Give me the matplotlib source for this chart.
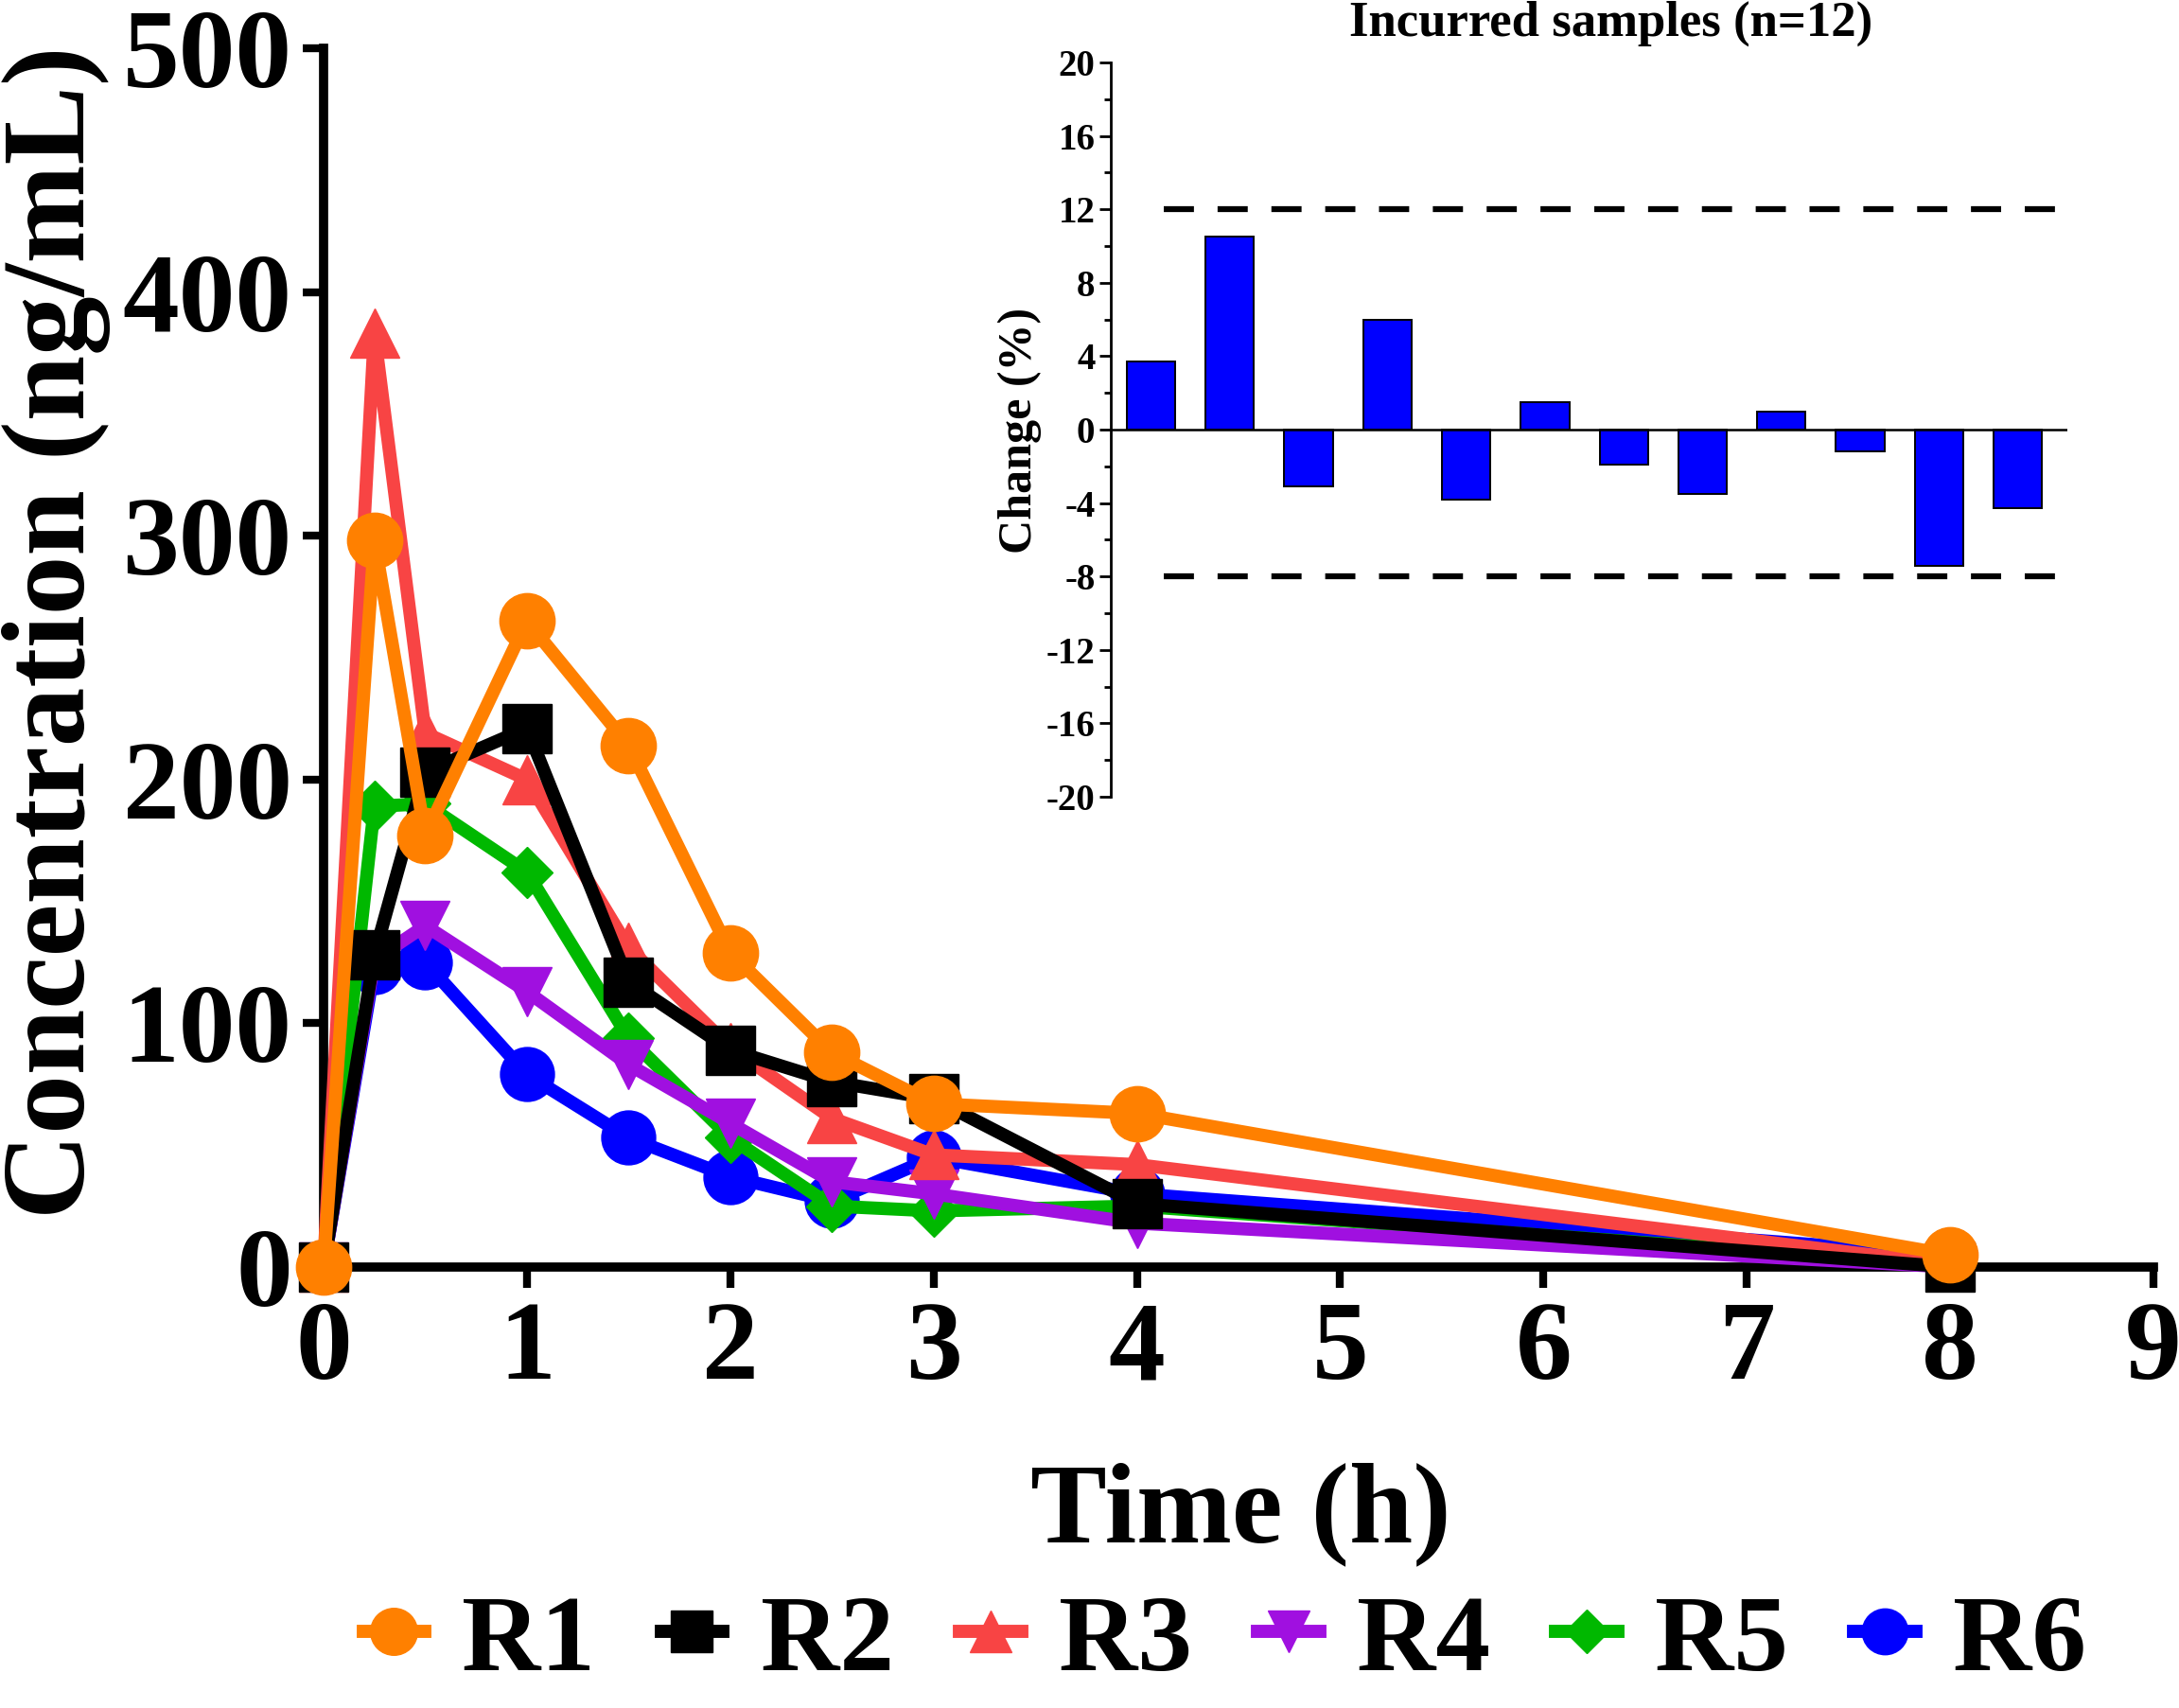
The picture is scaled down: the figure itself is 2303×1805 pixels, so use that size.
import numpy as np
import matplotlib.pyplot as plt

plt.rcParams['font.family'] = ['Liberation Serif', 'DejaVu Serif']
plt.rcParams['font.weight'] = 'bold'
plt.rcParams['axes.unicode_minus'] = False

# concentration-time data
time_h = [0, 0.25, 0.5, 1, 1.5, 2, 2.5, 3, 4, 8]
r1 = [0, 298, 177, 265, 214, 129, 88, 67, 63, 5]
r2 = [0, 128, 203, 221, 117, 89, 76, 69, 26, 0]
r3 = [0, 383, 219, 200, 131, 90, 61, 46, 42, 1]
r4 = [0, 126, 140, 113, 83, 59, 35, 30, 18, 0]
r5 = [0, 189, 190, 162, 94, 53, 25, 23, 25, 1]
r6 = [0, 123, 125, 79, 53, 37, 27, 45, 30, 5]
names = ['R1', 'R2', 'R3', 'R4', 'R5', 'R6']

# incurred sample reanalysis
change_pct = [3.7, 10.5, -3.1, 6.0, -3.8, 1.5, -1.9, -3.5, 1.0, -1.2, -7.4, -4.3]
limits = [12, -8]

fig = plt.figure(figsize=(23.03, 18.05), dpi=100)
ax = fig.add_axes([0.1485, 0.2582, 0.8398, 0.7136])

series = [r1, r2, r3, r4, r5, r6]
colors = ['#FF8000', '#000000', '#F84444', '#A010E0', '#00B800', '#0000FF']
markers = ['o', 's', '^', 'v', 'D', 'o']
msizes = [42, 38, 37, 37, 28, 41]
lines = []
for i, (y, c, m, ms, n) in enumerate(zip(series, colors, markers, msizes, names)):
    ln, = ax.plot(time_h, y, color=c, marker=m, markersize=ms, lw=10,
                  markeredgecolor=c, label=n, zorder=10 - i, clip_on=False)
    lines.append(ln)

ax.set_xlim(0, 9)
ax.set_ylim(0, 500)
ax.set_xticks(range(10))
ax.set_yticks(range(0, 501, 100))
for s in ['top', 'right']:
    ax.spines[s].set_visible(False)
for s in ['left', 'bottom']:
    ax.spines[s].set_linewidth(7)
ax.tick_params(direction='out', length=16, width=6, labelsize=86)
ax.tick_params(axis='y', pad=8)
ax.tick_params(axis='x', pad=10)

fig.text(60 / 2303, 1 - 668 / 1805, 'Concentration (ng/mL)', rotation=90,
         ha='center', va='center', fontsize=90, fontweight='bold')
fig.text(1311 / 2303, 1 - 1600 / 1805, 'Time (h)', ha='center', va='center',
         fontsize=87, fontweight='bold')

fig.legend(handles=lines, loc='center', bbox_to_anchor=(0.562, 0.038), ncol=6,
           frameon=False, fontsize=83, handlelength=0.57, handletextpad=0.34,
           columnspacing=0.6, borderpad=0, markerscale=0.85)

# inset
ins = fig.add_axes([0.5098, 0.5335, 0.439, 0.4299])
pos = np.arange(1, len(change_pct) + 1)
ins.bar(pos, change_pct, width=0.615, color='#0000FF', edgecolor='black', lw=1.4)
ins.axhline(0, color='black', lw=1.8)
for lim in limits:
    ins.hlines(lim, 1.16, 12.63, colors='black', lw=4.5, linestyles=(0, (5.1, 4)))
ins.set_xlim(0.49, 12.63)
ins.set_ylim(-20, 20)
ins.set_yticks(range(-20, 21, 4))
ins.set_yticks(range(-18, 21, 4), minor=True)
ins.set_xticks([])
for s in ['top', 'right', 'bottom']:
    ins.spines[s].set_visible(False)
ins.spines['left'].set_linewidth(2)
ins.tick_params(axis='y', which='major', length=9, width=2, labelsize=28, pad=3)
ins.tick_params(axis='y', which='minor', length=5, width=2)
ins.patch.set_alpha(0)

fig.text(1703 / 2303, 1 - 25 / 1805, 'Incurred samples (n=12)', ha='center',
         va='center', fontsize=38, fontweight='bold')
fig.text(1078 / 2303, 1 - 455 / 1805, 'Change (%)', rotation=90, ha='center',
         va='center', fontsize=36, fontweight='bold')

fig.savefig('out.png', dpi=100)
